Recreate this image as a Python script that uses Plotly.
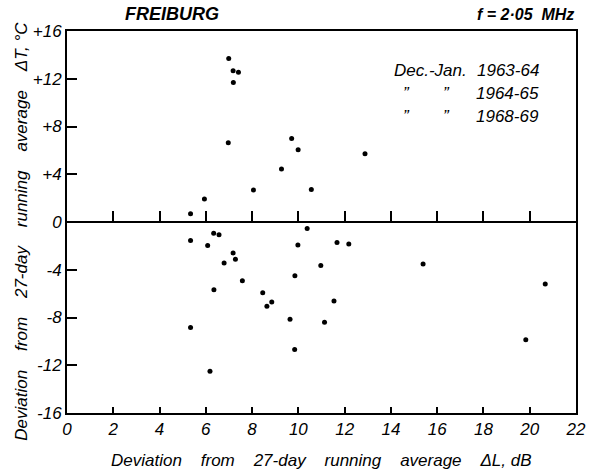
import plotly.graph_objects as go

# Data (ΔL dB, ΔT °C)
delta_L = [5.34, 5.94, 6.99, 7.18, 7.41, 7.19, 6.97, 8.06, 9.27, 9.71, 9.99, 10.56, 12.88,
           5.34, 6.34, 6.57, 6.08, 7.18, 7.28, 6.79, 7.58, 6.35, 8.46, 8.85, 8.64, 5.34,
           9.64, 9.84, 6.18, 9.85, 9.98, 10.38, 10.97, 11.67, 12.18, 11.54, 11.13,
           15.39, 20.67, 19.83]
delta_T = [0.70, 1.92, 13.70, 12.66, 12.55, 11.69, 6.64, 2.68, 4.44, 7.00, 6.05, 2.73, 5.72,
           -1.56, -0.95, -1.06, -1.96, -2.59, -3.13, -3.44, -4.92, -5.67, -5.92, -6.70, -7.06, -8.83,
           -8.15, -10.69, -12.51, -4.50, -1.93, -0.54, -3.64, -1.71, -1.85, -6.61, -8.40,
           -3.51, -5.19, -9.87]

x_ticks = [0, 2, 4, 6, 8, 10, 12, 14, 16, 18, 20, 22]
x_ticklabels = ["0", "2", "4", "6", "8", "10", "12", "14", "16", "18", "20", "22"]
y_ticks = [16, 12, 8, 4, 0, -4, -8, -12, -16]
y_ticklabels = ["+16", "+12", "+8", "+4", "0", "-4", "-8", "-12", "-16"]
zero_line_ticks = [2, 4, 6, 8, 10, 12, 14, 16, 18, 20]

ditto = "\u201d"
legend_cols = [["Dec.-Jan.", ditto, ditto], ["", ditto, ditto]]
legend_years = ["1963-64", "1964-65", "1968-69"]

FONT = "Liberation Sans"
sp = "\u00a0\u00a0\u00a0\u00a0"

fig = go.Figure()
fig.add_trace(go.Scatter(x=delta_L, y=delta_T, mode="markers",
                         marker=dict(color="black", size=5), showlegend=False))
# invisible trace on the second x axis so the zero-line axis is drawn
fig.add_trace(go.Scatter(x=[0, 22], y=[0, 0], xaxis="x2", mode="markers",
                         marker=dict(opacity=0), showlegend=False, hoverinfo="skip"))

W, H = 598, 475
L, R, T, B = 67, 14, 31, 62
fig.update_layout(
    width=W, height=H,
    margin=dict(l=L, r=R, t=T, b=B),
    paper_bgcolor="white", plot_bgcolor="white",
    font=dict(family=FONT, color="black", size=15, style="italic"),
    xaxis=dict(range=[0, 22], tickvals=x_ticks, ticktext=x_ticklabels,
               ticks="inside", ticklen=6, tickwidth=1.5, tickcolor="black",
               showline=True, linecolor="black", linewidth=2, mirror=True,
               showgrid=False, zeroline=False,
               tickfont=dict(family=FONT, size=17, style="italic"), ticklabelstandoff=0),
    xaxis2=dict(range=[0, 22], overlaying="x", anchor="free", position=0.5, side="bottom",
                tickvals=zero_line_ticks, ticks="inside", ticklen=10, tickwidth=1.5,
                tickcolor="black", showticklabels=False, showline=True,
                linecolor="black", linewidth=2, showgrid=False, zeroline=False),
    yaxis=dict(range=[-16, 16], tickvals=y_ticks, ticktext=y_ticklabels,
               ticks="inside", ticklen=10, tickwidth=1.5, tickcolor="black",
               showline=True, linecolor="black", linewidth=2, mirror=True,
               showgrid=False, zeroline=False,
               tickfont=dict(family=FONT, size=17, style="italic"), ticklabelstandoff=0),
)

pw, ph = W - L - R, H - T - B

def px(xp):
    return (xp - L) / pw

def py(yp):
    return 1 - (yp - T) / ph

def note(text, xp, yp, xa="center", size=16, angle=0):
    return dict(text=text, x=px(xp), y=py(yp), xref="paper", yref="paper",
                xanchor=xa, yanchor="middle", showarrow=False, textangle=angle,
                font=dict(size=size))

ann = [
    note("<b>FREIBURG</b>", 174, 14, size=18),
    note("<b>f = 2·05\u00a0\u00a0MHz</b>", 533, 14, size=16),
]
rows_y = [70, 93, 116]
for i, yy in enumerate(rows_y):
    if i == 0:
        ann.append(note(legend_cols[0][i], 397, yy, xa="left", size=17))
    else:
        ann.append(note(legend_cols[0][i], 412, yy, size=17))
        ann.append(note(legend_cols[1][i], 452, yy, size=17))
    ann.append(note(legend_years[i], 548, yy, xa="right", size=17))
ann.append(note(sp.join(["Deviation", "from", "27-day", "running", "average", "ΔL, dB"]),
                325, 460, size=17))
ann.append(note(sp.join(["Deviation", "from", "27-day", "running", "average", "ΔT, °C"]),
                20, 231, size=17, angle=-90))
fig.update_layout(annotations=ann)

fig.write_html("out.html")
